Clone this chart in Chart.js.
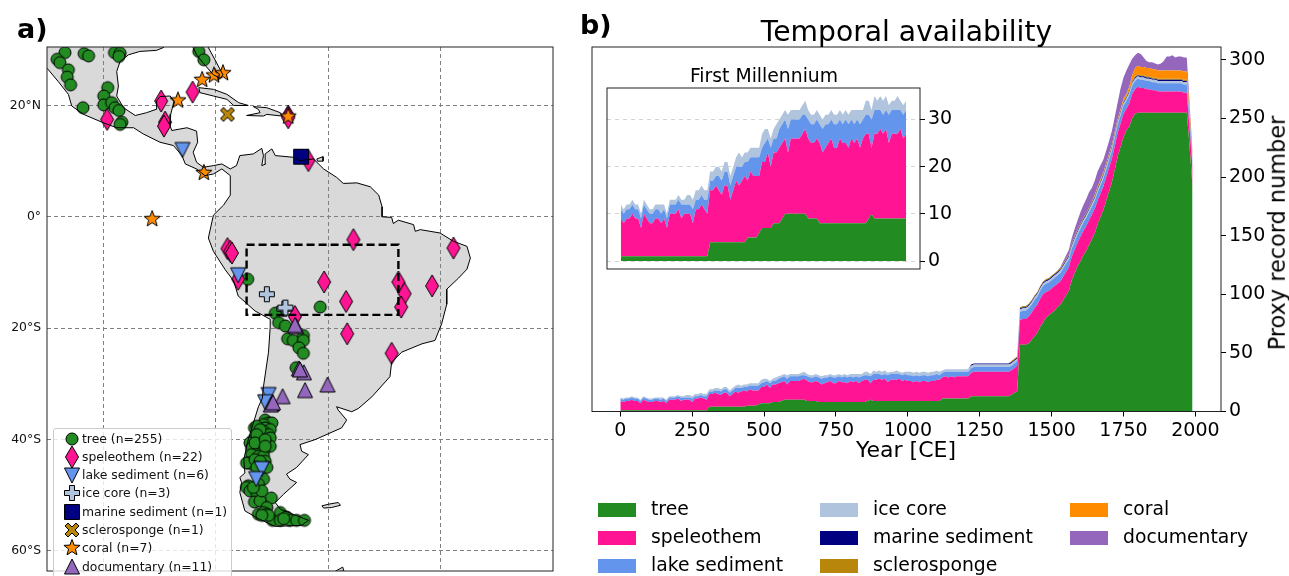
<!DOCTYPE html>
<html lang="en">
<head>
<meta charset="UTF-8">
<title>Temporal availability</title>
<style>
    body { margin: 0; background: #fff; overflow: hidden; font-family: "DejaVu Sans", sans-serif; color: #000; }
    #page { position: relative; width: 1289px; height: 576px; overflow: hidden; }
    canvas.layer { position: absolute; left: 0; top: 0; }
    .txt { position: absolute; white-space: nowrap; line-height: 1; }
    #mapLegend { position: absolute; left: 53px; top: 428px; width: 179px; height: 170px; background: rgba(255,255,255,0.8); border: 1px solid #ccc; border-radius: 3px; box-sizing: border-box; }
    #mapLegend canvas { position: absolute; }
    #mapLegend span { position: absolute; left: 28px; font-size: 12.4px; line-height: 1; white-space: nowrap; color: #111; }
    .swatch { position: absolute; width: 38px; height: 14px; }
</style>
</head>
<body>
<div id="page">
    <canvas id="mapChart" class="layer" width="1289" height="576"></canvas>
    <canvas id="mainChart" class="layer" width="1289" height="576"></canvas>
    <canvas id="insetChart" class="layer" width="1289" height="576"></canvas>
    <div class="txt" style="left:17px;top:15px;font-size:27px;font-weight:bold">a)</div>
    <div class="txt" style="left:580px;top:11px;font-size:27px;font-weight:bold">b)</div>
    <div class="txt" style="left:906.5px;top:18px;font-size:28.2px;transform:translateX(-50%)">Temporal availability</div>
    <div class="txt" style="left:764px;top:67px;font-size:18.8px;transform:translateX(-50%)">First Millennium</div>
    <div class="txt" style="left:906px;top:439px;font-size:22px;transform:translateX(-50%)">Year [CE]</div>
    <div class="txt" style="left:1277px;top:233px;font-size:22.4px;transform:translate(-50%,-50%) rotate(-90deg)">Proxy record number</div>
    <div id="mapLegend"></div>
    <div id="stackLegend"></div>
</div>

<script src="https://cdn.jsdelivr.net/npm/chart.js"></script>
<script>
// ---- stack plot data, one value per decade from year 0 to 1990 (one row = one century)
const tree = [
    1,1,1,1,1,1,1,1,1,1,
    1,1,1,1,1,1,1,1,1,1,
    1,1,1,1,1,1,1,1,1,1,
    1,4,4,4,4,4,4,4,4,4,
    4,4,4,4,5,5,5,5,6,7,
    7,7,7,8,8,8,9,10,10,10,
    10,10,10,10,10,9,9,9,9,8,
    8,8,8,8,8,8,8,8,8,8,
    8,8,8,8,8,8,9,10,9,9,
    9,9,9,9,9,9,9,9,9,9,
    9,9,9,9,9,9,9,9,9,9,
    9,9,11,11,11,11,11,11,11,11,
    11,11,13,13,13,13,13,13,13,13,
    13,13,13,13,13,13,14,16,17,57,
    57,57,58,61,64,67,72,76,80,82,
    84,86,89,91,95,99,103,112,118,124,
    128,133,137,142,147,152,160,166,172,180,
    188,196,207,218,226,234,240,243,250,254,
    255,255,255,255,255,255,255,255,255,255,
    255,255,255,255,255,255,255,255,225,192
];
const speleothem = [
    8,7,8,8,9,8,8,6,9,8,
    7,7,8,8,7,8,6,9,9,9,
    10,8,9,9,9,7,10,10,11,10,
    9,11,11,12,11,10,12,12,9,11,
    13,12,13,14,12,14,13,13,12,14,
    14,16,13,15,15,16,16,16,13,16,
    16,16,16,17,18,17,16,16,17,17,
    15,16,17,18,16,16,18,17,17,16,
    18,17,18,16,18,19,18,14,18,18,
    19,18,19,16,18,18,18,19,17,18,
    17,17,16,17,16,17,17,16,17,17,
    18,18,18,19,18,19,18,19,19,19,
    19,19,20,21,21,21,21,21,21,21,
    21,21,21,21,21,21,21,21,22,21,
    22,22,23,23,24,24,24,24,22,21,
    21,21,20,20,20,20,20,20,20,20,
    21,21,21,21,21,21,20,20,20,20,
    20,20,20,20,20,20,18,20,21,21,
    22,21,21,20,20,19,19,18,18,18,
    18,18,18,18,18,18,17,17,16,16
];
const lakeSediment = [
    2,2,2,2,2,2,2,2,2,2,
    2,2,2,2,2,2,2,2,2,2,
    2,3,2,2,2,3,2,2,2,2,
    3,2,2,2,3,3,3,3,3,3,
    3,4,3,3,4,3,4,4,4,3,
    4,3,4,3,3,4,4,4,5,4,
    4,4,4,4,3,4,4,4,4,4,
    5,5,4,4,5,5,4,4,5,5,
    4,4,4,5,4,4,4,6,5,5,
    4,4,4,6,5,5,5,4,5,5,
    5,5,5,5,5,5,5,5,5,5,
    5,4,4,4,5,4,5,4,4,4,
    4,4,4,4,4,4,4,4,4,4,
    4,4,4,4,4,4,4,4,4,7,
    7,7,7,7,7,7,7,7,7,7,
    7,7,7,7,7,7,7,7,7,7,
    7,7,7,7,7,7,7,7,7,7,
    7,7,7,7,7,7,7,7,7,7,
    7,7,7,7,7,7,7,7,7,7,
    7,7,7,7,7,7,7,7,7,7
];
const iceCore = [
    1,1,1,1,1,1,1,1,1,1,
    1,1,1,1,2,1,1,1,1,1,
    1,1,1,2,2,2,2,2,2,2,
    2,2,2,2,2,2,2,2,2,2,
    2,3,2,2,2,2,2,2,2,3,
    3,2,2,2,3,2,2,2,3,2,
    2,2,2,2,3,2,2,2,2,2,
    2,2,2,2,2,2,2,2,2,2,
    2,3,2,3,2,3,3,2,3,2,
    3,3,3,2,2,2,3,2,2,2,
    3,3,3,3,3,3,3,3,3,3,
    3,3,2,2,2,2,2,2,2,2,
    2,2,2,2,2,2,2,2,2,2,
    2,2,2,2,2,2,2,2,2,2,
    2,2,2,2,2,2,2,2,2,2,
    2,2,2,2,2,2,2,2,2,2,
    2,2,2,2,2,2,2,2,2,2,
    2,2,2,2,2,2,2,2,2,2,
    2,2,2,2,2,2,2,2,2,2,
    2,2,2,2,2,2,2,2,2,1
];
const marineSediment = [
    0,0,0,0,0,0,0,0,0,0,
    0,0,0,0,0,0,0,0,0,0,
    0,0,0,0,0,0,0,0,0,0,
    0,0,0,0,0,0,0,0,0,0,
    0,0,0,0,0,0,0,0,0,0,
    0,0,0,0,0,0,0,0,0,0,
    0,0,0,0,0,0,0,0,0,0,
    0,0,0,0,0,0,0,0,0,0,
    0,0,0,0,0,0,0,0,0,0,
    0,0,0,0,0,0,0,0,0,0,
    0,0,0,0,0,0,0,0,0,0,
    0,0,0,0,0,0,0,0,0,0,
    0,0,1,1,1,1,1,1,1,1,
    1,1,1,1,1,1,1,1,1,1,
    1,1,1,1,1,1,1,1,1,1,
    1,1,1,1,1,1,1,1,1,1,
    1,1,1,1,1,1,1,1,1,1,
    1,1,1,1,1,1,1,1,1,1,
    1,1,1,1,1,1,1,1,1,1,
    1,1,1,1,1,1,1,1,1,1
];
const sclerosponge = [
    0,0,0,0,0,0,0,0,0,0,
    0,0,0,0,0,0,0,0,0,0,
    0,0,0,0,0,0,0,0,0,0,
    0,0,0,0,0,0,0,0,0,0,
    0,0,0,0,0,0,0,0,0,0,
    0,0,0,0,0,0,0,0,0,0,
    0,0,0,0,0,0,0,0,0,0,
    0,0,0,0,0,0,0,0,0,0,
    0,0,0,0,0,0,0,0,0,0,
    0,0,0,0,0,0,0,0,0,0,
    0,0,0,0,0,0,0,0,0,0,
    0,0,0,0,0,0,0,0,0,0,
    0,0,0,0,0,0,0,0,0,0,
    0,0,0,0,0,0,1,1,1,1,
    1,1,1,1,1,1,1,1,1,1,
    1,1,1,1,1,1,1,1,1,1,
    1,1,1,1,1,1,1,1,1,1,
    1,1,1,1,1,1,1,1,1,1,
    1,1,1,1,1,1,1,1,1,1,
    1,1,1,1,1,1,1,1,1,1
];
const coral = [
    0,0,0,0,0,0,0,0,0,0,
    0,0,0,0,0,0,0,0,0,0,
    0,0,0,0,0,0,0,0,0,0,
    0,0,0,0,0,0,0,0,0,0,
    0,0,0,0,0,0,0,0,0,0,
    0,0,0,0,0,0,0,0,0,0,
    0,0,0,0,0,0,0,0,0,0,
    0,0,0,0,0,0,0,0,0,0,
    0,0,0,0,0,0,0,0,0,0,
    0,0,0,0,0,0,0,0,0,0,
    0,0,0,0,0,0,0,0,0,0,
    0,0,0,0,0,0,0,0,0,0,
    0,0,0,0,0,0,0,0,0,0,
    0,0,0,0,0,0,0,0,0,0,
    0,0,0,0,0,0,0,0,0,0,
    0,0,0,0,0,0,0,0,0,0,
    0,0,0,0,0,1,1,1,1,1,
    1,1,1,1,1,2,2,3,5,7,
    7,7,7,7,7,7,7,7,7,7,
    7,7,7,7,7,7,7,7,5,3
];
const documentary = [
    0,0,0,0,0,0,0,0,0,0,
    0,0,0,0,0,0,0,0,0,0,
    0,0,0,0,0,0,0,0,0,0,
    0,0,0,0,0,0,0,0,0,0,
    0,0,0,0,0,0,0,0,0,0,
    0,0,0,0,0,0,0,0,0,0,
    0,0,0,0,0,0,0,0,0,0,
    0,0,0,0,0,0,0,0,0,0,
    0,0,0,0,0,0,0,0,0,0,
    0,0,0,0,0,0,0,0,0,0,
    0,0,0,0,0,0,0,0,0,0,
    0,0,0,0,0,0,0,0,0,0,
    0,0,0,0,0,0,0,0,0,0,
    0,0,0,0,0,0,0,0,0,0,
    0,0,0,0,0,0,0,0,0,0,
    0,0,0,1,2,3,4,5,7,8,
    10,11,12,13,12,12,13,12,11,11,
    11,12,13,14,18,18,20,19,14,11,
    11,11,8,6,5,6,5,5,6,8,
    12,12,13,11,12,12,12,12,5,1
];
const years = tree.map((_, i) => i * 10);
const firstMillenniumCount = 100;

const seriesNames = ['tree', 'speleothem', 'lake sediment', 'ice core', 'marine sediment', 'sclerosponge', 'coral', 'documentary'];
const seriesValues = [tree, speleothem, lakeSediment, iceCore, marineSediment, sclerosponge, coral, documentary];
const seriesColors = ['#228B22', '#FF1493', '#6495ED', '#B0C4DE', '#000080', '#B8860B', '#FF8C00', '#9467BD'];
const seriesCounts = [255, 22, 6, 3, 1, 1, 7, 11];

const yearTicks = [0, 250, 500, 750, 1000, 1250, 1500, 1750, 2000];
const recordTicks = [0, 50, 100, 150, 200, 250, 300];
const insetTicks = [0, 10, 20, 30];

// ---- map data, degrees
const lonTicks = [-100, -80, -60, -40];
const latTicks = [-60, -40, -20, 0, 20];

const treeLon = [-106.8,-108.2,-107.7,-106.2,-106.4,-105.8,-103.4,-102.6,-98.0,-97.0,-97.2,-83.0,-82.1,-99.2,-99.9,-99.9,-98.5,-97.9,-97.2,-103.6,-96.7,-97.0,
    -74.3,-61.4,-69.4,-68.8,-67.6,-67.2,-66.2,-64.4,-64.4,-65.2,-64.4,-65.7,
    -71.2,-70.6,-70.0,-73.1,-71.5,-71.2,-70.3,-71.5,-71.8,-70.6,-70.3,-73.3,-73.9,-72.1,-70.3,-73.6,-72.1,-72.4,-71.5,-73.6,-72.4,-71.5,-74.2,-73.3,-71.2,-74.5,-70.9,
    -71.5,-72.4,-74.2,-74.5,-73.9,-72.7,-70.1,-73.1,-72.1,-70.9,-72.4,-71.5,-70.9,-69.9,-68.5,-68.5,-67.4,-66.8,-65.6,-64.2,-67.9,-70.6,-71.8,
    -72.7,-72.1,-72.7,-73.0,-71.2,-71.2,-73.0,-72.1,-72.7,-71.8,-73.3];
const treeLat = [29.5,28.3,27.7,26.4,25.1,23.7,29.3,28.9,29.5,29.4,28.8,29.7,28.2,23.2,21.7,20.1,20.5,19.6,19.1,19.6,17.0,16.6,
    -11.2,-16.2,-17.3,-19.0,-19.6,-21.9,-22.2,-21.3,-22.2,-23.5,-24.5,-27.1,
    -36.5,-37.0,-37.0,-37.9,-37.3,-37.9,-38.2,-38.5,-39.1,-39.1,-39.7,-40.0,-40.6,-40.3,-41.2,-41.5,-41.2,-42.1,-42.1,-42.7,-43.0,-43.0,-44.2,-44.5,-43.9,-44.2,-45.0,
    -47.1,-48.0,-48.3,-48.6,-49.2,-49.5,-50.5,-51.2,-51.0,-52.2,-53.4,-53.1,-53.4,-54.5,-53.1,-54.5,-53.9,-54.5,-54.5,-54.5,-54.2,-53.6,-53.6,
    -37.6,-38.2,-39.1,-40.6,-40.0,-41.2,-43.6,-43.9,-45.0,-49.2,-48.6];
const speleothemLon = [-89.7,-89.0,-89.2,-99.3,-84.1,-67.1,-67.1,-77.9,-77.4,-77.1,-76.0,-63.5,-55.5,-37.7,-60.7,-56.8,-65.9,-56.6,-48.7,-47.5,-46.4,-47.0,-41.5];
const speleothemLat = [20.8,17.0,16.3,17.5,22.4,18.1,17.8,-5.7,-6.2,-6.5,-11.2,10.1,-4.1,-5.6,-11.7,-15.2,-17.9,-21.0,-24.5,-11.7,-13.8,-16.2,-12.4];
const lakeLon = [-85.9,-76.0,-70.6,-71.2,-71.8,-72.8];
const lakeLat = [12.1,-10.4,-31.9,-33.2,-45.2,-47.0];
const iceLon = [-70.9,-67.8,-67.6];
const iceLat = [-13.9,-16.5,-16.3];
const marineLon = [-64.8];
const marineLat = [10.8];
const spongeLon = [-77.9];
const spongeLat = [18.4];
const coralLon = [-91.3,-86.7,-82.4,-80.3,-78.7,-82.1,-67.1];
const coralLat = [-0.4,20.9,24.6,25.4,25.8,7.9,18.0];
const docLon = [-65.7,-65.2,-64.3,-64.1,-60.1,-68.1,-70.0,-70.2,-69.8,-65.0,-65.9];
const docLat = [-19.7,-27.3,-28.0,-31.2,-30.2,-32.3,-33.6,-33.8,-33.4,-27.5,-19.5];

const boxLon = [-74.5,-47.5,-47.5,-74.5,-74.5];
const boxLat = [-5,-5,-17.6,-17.6,-5];

// americas outline, runs off the top and left of the map on purpose
const americasLon = [-112,-78,-81.3,-79.8,-78.7,-79.2,-80.4,-82.2,-83.4,-84,-84,-89.3,-89.3,-90.5,-93.5,-95.5,-97,-97.6,-97.3,-97.6,-96.4,-94.3,-92.3,-90.6,-90.5,-89.9,-88.1,-87.4,-88,-88.1,-87.8,-85.1,-83.4,-83.2,-84,-83.4,-82.2,-80.4,-78.9,-77.4,-76.3,-75.7,-73.3,-71.8,-71.5,-71.8,-71.1,-71.2,-70,-69.4,-66.2,-65,-62.6,-60.8,-58.5,-57.3,-54.9,-52.5,-51,-50.4,-50.4,-48.7,-48.4,-47.5,-44.8,-44.5,-43.6,-40.1,-37.7,-35.3,-34.7,-35.3,-36.8,-38.9,-38.9,-39.8,-41,-43.3,-46.9,-48.7,-49,-52.2,-54.6,-55.8,-58.5,-58.2,-56.7,-57.6,-62.3,-65,-64.7,-63.5,-65.6,-67.4,-66.8,-65.6,-67.9,-69.4,-68.5,-63.5,-64.7,-69.4,-72.4,-74.8,-75.7,-75.4,-75.7,-74.8,-75,-74.2,-72.4,-71.7,-71.5,-70.6,-70.3,-70.3,-73,-76,-76.8,-78.3,-80.4,-81.3,-80.4,-78.6,-77.4,-77.4,-78.9,-80.4,-81.9,-83.4,-85.4,-86,-87.5,-89.9,-92.9,-94.6,-97.6,-100,-103.5,-105.6,-106.2,-108,-110,-111.2,-112];
const americasLat = [33,33,30.4,27.6,25.5,24.9,25.5,27.6,29.1,30.4,32,32,30.4,29.9,29.7,29.1,27.9,26.1,23.5,21.7,19.6,18.2,18.7,19.3,20.8,21.6,21.7,20.8,18.4,16.3,15.5,16,15.4,13.4,11.6,9.8,8.9,9.2,9.5,8.6,9.2,11,11.3,12.3,11,9.2,9.5,11.3,12.2,11,10.7,10.1,10.4,8.6,7.1,6,6.1,5.4,3.9,1.8,0,-0.1,-1.2,-0.6,-1.4,-2.6,-2.3,-2.9,-4.4,-5.3,-7.4,-9.4,-11,-13,-15.7,-19.2,-22.2,-22.8,-24.3,-26.1,-28.7,-32.3,-34.4,-35,-34.1,-34.7,-36.5,-37.9,-40,-40.9,-42.1,-42.7,-45,-46.2,-47.1,-47.7,-49.8,-51.3,-52.5,-54.5,-55.4,-55.6,-54.2,-52.8,-49.5,-47.7,-46.8,-46,-43.6,-40,-34.1,-32.6,-30.5,-24.3,-19.8,-18.4,-16.9,-14.2,-11.5,-9.5,-6.2,-3.8,0.3,2.1,3.9,7.4,8.6,7.7,7.4,8.6,9.5,11,12.8,13.4,14.9,16,16,16.9,18.4,19.9,22,24.3,26.7,27.6,33];
const cubaLon = [-83,-80.4,-78,-75.9,-74.2,-76.8,-78,-80.4,-82.8,-83];
const cubaLat = [23.2,22.9,22,20.5,20,20,21.1,21.7,22.3,23.2];
const hispaniolaLon = [-73.3,-70.9,-68.5,-68.2,-70.9,-71.5,-74.5,-72.1,-72.4,-73.3];
const hispaniolaLat = [19.8,19.6,18.7,18.1,18.4,18.1,18.2,18.7,19.3,19.8];
const trinidadLon = [-62,-60.9,-60.9,-61.9,-62];
const trinidadLat = [10.4,10.8,10,10,10.4];
const falklandLon = [-61.1,-59.9,-58.2,-57.8,-59.4,-60.8,-61.1];
const falklandLat = [-51.9,-51.6,-51.3,-51.8,-52.2,-52.3,-51.9];
const peninsulaLon = [-58.8,-57.4,-57.2,-58.2,-58.8];
const peninsulaLat = [-63.7,-62.9,-63.6,-63.7,-63.7];

function toPoints(lon, lat) {
    return lon.map((x, i) => ({ x: x, y: lat[i] }));
}

// ---- markers are small canvases, Chart.js stamps them as pointStyle
function makeMarker(color, path) {
    const c = document.createElement('canvas');
    c.width = 28;
    c.height = 28;
    const ctx = c.getContext('2d');
    ctx.translate(14, 14);
    ctx.fillStyle = color;
    ctx.strokeStyle = '#000';
    ctx.lineWidth = 1;
    ctx.lineJoin = 'miter';
    ctx.beginPath();
    path(ctx);
    ctx.closePath();
    ctx.fill();
    ctx.stroke();
    return c;
}
function poly(pts) {
    return ctx => pts.forEach((p, i) => i ? ctx.lineTo(p[0], p[1]) : ctx.moveTo(p[0], p[1]));
}
function star5(r) {
    const pts = [];
    for (let i = 0; i < 10; i++) {
        const a = -Math.PI / 2 + i * Math.PI / 5;
        const q = i % 2 ? r * 0.42 : r;
        pts.push([q * Math.cos(a), q * Math.sin(a)]);
    }
    return poly(pts);
}
const markers = [
    makeMarker(seriesColors[0], ctx => ctx.arc(0, 0, 6, 0, Math.PI * 2)),
    makeMarker(seriesColors[1], poly([[0,-11],[6.5,0],[0,11],[-6.5,0]])),
    makeMarker(seriesColors[2], poly([[-7.5,-7],[7.5,-7],[0,8]])),
    makeMarker(seriesColors[3], poly([[-2.5,-7.5],[2.5,-7.5],[2.5,-2.5],[7.5,-2.5],[7.5,2.5],[2.5,2.5],[2.5,7.5],[-2.5,7.5],[-2.5,2.5],[-7.5,2.5],[-7.5,-2.5],[-2.5,-2.5]])),
    makeMarker(seriesColors[4], poly([[-7.5,-7.5],[7.5,-7.5],[7.5,7.5],[-7.5,7.5]])),
    makeMarker(seriesColors[5], poly([[-4,-7],[0,-3],[4,-7],[7,-4],[3,0],[7,4],[4,7],[0,3],[-4,7],[-7,4],[-3,0],[-7,-4]])),
    makeMarker(seriesColors[6], star5(8.5)),
    makeMarker(seriesColors[7], poly([[0,-8],[7.5,7],[-7.5,7]]))
];

const frame = {
    id: 'frame',
    afterDraw(chart) {
        const a = chart.chartArea;
        chart.ctx.save();
        chart.ctx.strokeStyle = '#222';
        chart.ctx.lineWidth = 1;
        chart.ctx.strokeRect(a.left, a.top, a.right - a.left, a.bottom - a.top);
        chart.ctx.restore();
    }
};
function fixedTicks(list) {
    return scale => { scale.ticks = list.map(v => ({ value: v })); };
}
// axis takes exactly this room, no extra for labels that stick out
function fixedSize(width, height) {
    return scale => {
        if (width !== null) scale.width = width;
        if (height !== null) scale.height = height;
        scale.paddingLeft = scale.paddingRight = scale.paddingTop = scale.paddingBottom = 0;
    };
}

// ---- panel a
function landSet(lon, lat) {
    return {
        data: toPoints(lon, lat), showLine: true, fill: 'shape', tension: 0,
        backgroundColor: '#D9D9D9', borderColor: '#000', borderWidth: 1,
        pointRadius: 0, order: 0
    };
}
const scatterLons = [treeLon, speleothemLon, lakeLon, iceLon, marineLon, spongeLon, coralLon, docLon];
const scatterLats = [treeLat, speleothemLat, lakeLat, iceLat, marineLat, spongeLat, coralLat, docLat];
const mapSets = [
    landSet(americasLon, americasLat),
    landSet(cubaLon, cubaLat),
    landSet(hispaniolaLon, hispaniolaLat),
    landSet(trinidadLon, trinidadLat),
    landSet(falklandLon, falklandLat),
    landSet(peninsulaLon, peninsulaLat),
    {
        data: toPoints(boxLon, boxLat), showLine: true, fill: false, tension: 0,
        borderColor: '#000', borderWidth: 2.4, borderDash: [8, 4], pointRadius: 0, order: 0
    }
];
seriesNames.forEach((name, i) => {
    mapSets.push({
        label: name, data: toPoints(scatterLons[i], scatterLats[i]),
        pointStyle: markers[i], order: 10 - i, showLine: false
    });
});

new Chart(document.getElementById('mapChart'), {
    type: 'scatter',
    data: { datasets: mapSets },
    options: {
        responsive: false, animation: false, devicePixelRatio: 1,
        layout: { padding: { left: 0, top: 47, right: 736, bottom: 0 } },
        plugins: { legend: { display: false }, tooltip: { enabled: false }, filler: { drawTime: 'beforeDraw' } },
        scales: {
            x: {
                type: 'linear', min: -110, max: -20,
                afterBuildTicks: fixedTicks(lonTicks),
                afterFit: fixedSize(null, 0),
                ticks: { display: false },
                border: { display: false, dash: [4, 3] },
                grid: { color: '#808080', drawTicks: false }
            },
            y: {
                type: 'linear', min: -63.6, max: 30.5,
                afterBuildTicks: fixedTicks(latTicks),
                afterFit: fixedSize(47, null),
                ticks: {
                    color: '#111', padding: 6, autoSkip: false,
                    font: { family: 'DejaVu Sans', size: 12.4 },
                    callback: v => v === 0 ? '0°' : Math.abs(v) + (v > 0 ? '°N' : '°S')
                },
                border: { display: false, dash: [4, 3] },
                grid: { color: '#808080', drawTicks: false }
            }
        }
    },
    plugins: [frame]
});

// ---- panel b
function stackSets(names, values, colors, count) {
    return names.map((name, i) => ({
        label: name,
        data: values[i].slice(0, count),
        backgroundColor: colors[i],
        borderWidth: 0,
        pointRadius: 0,
        tension: 0,
        fill: i === 0 ? 'origin' : '-1'
    }));
}

new Chart(document.getElementById('mainChart'), {
    type: 'line',
    data: { labels: years, datasets: stackSets(seriesNames, seriesValues, seriesColors, years.length) },
    options: {
        responsive: false, animation: false, devicePixelRatio: 1,
        layout: { padding: { left: 592, top: 47, right: 0, bottom: 0 } },
        plugins: { legend: { display: false }, tooltip: { enabled: false } },
        scales: {
            x: {
                type: 'linear', min: -98.5, max: 2089,
                afterBuildTicks: fixedTicks(yearTicks),
                afterFit: fixedSize(null, 164.5),
                ticks: { color: '#000', maxRotation: 0, autoSkip: false, padding: 3, font: { family: 'DejaVu Sans', size: 19 }, callback: v => String(v) },
                border: { display: false },
                grid: { drawOnChartArea: false, tickColor: '#000', tickLength: 5 }
            },
            y: {
                type: 'linear', position: 'right', stacked: true, min: 0, max: 311,
                afterBuildTicks: fixedTicks(recordTicks),
                afterFit: fixedSize(68, null),
                ticks: { color: '#000', autoSkip: false, padding: 3, font: { family: 'DejaVu Sans', size: 19 } },
                border: { display: false },
                grid: { drawOnChartArea: false, tickColor: '#000', tickLength: 5 }
            }
        }
    },
    plugins: [frame]
});

new Chart(document.getElementById('insetChart'), {
    type: 'line',
    data: {
        labels: years.slice(0, firstMillenniumCount),
        datasets: stackSets(seriesNames.slice(0, 4), seriesValues.slice(0, 4), seriesColors.slice(0, 4), firstMillenniumCount)
    },
    options: {
        responsive: false, animation: false, devicePixelRatio: 1,
        layout: { padding: { left: 607, top: 88, right: 0, bottom: 0 } },
        plugins: { legend: { display: false }, tooltip: { enabled: false } },
        scales: {
            x: {
                type: 'linear', min: -48, max: 1038,
                afterFit: fixedSize(null, 307),
                ticks: { display: false },
                border: { display: false },
                grid: { display: false }
            },
            y: {
                type: 'linear', position: 'right', stacked: true, min: -1.69, max: 36.68,
                afterBuildTicks: fixedTicks(insetTicks),
                afterFit: fixedSize(369, null),
                ticks: { color: '#000', autoSkip: false, padding: 3, font: { family: 'DejaVu Sans', size: 19 } },
                border: { display: false, dash: [4, 4] },
                grid: { color: '#D3D3D3', tickColor: '#000', tickLength: 5, tickBorderDash: [] }
            }
        }
    },
    plugins: [frame]
});

// ---- legends
const mapLegend = document.getElementById('mapLegend');
seriesNames.forEach((name, i) => {
    const rowY = 9.5 + i * 18.3;
    const m = markers[i];
    m.style.left = (17.5 - 14) + 'px';
    m.style.top = (rowY - 14) + 'px';
    mapLegend.appendChild(m);
    const t = document.createElement('span');
    t.textContent = name + ' (n=' + seriesCounts[i] + ')';
    t.style.top = (rowY - 6) + 'px';
    mapLegend.appendChild(t);
});

const stackLegend = document.getElementById('stackLegend');
const swatchX = [598, 820, 1070];
const labelX = [651, 873, 1123];
const rowTop = [510, 538, 566];
const columnOf = [0, 0, 0, 1, 1, 1, 2, 2];
const rowOf = [0, 1, 2, 0, 1, 2, 0, 1];
seriesNames.forEach((name, i) => {
    const sw = document.createElement('div');
    sw.className = 'swatch';
    sw.style.left = swatchX[columnOf[i]] + 'px';
    sw.style.top = (rowTop[rowOf[i]] - 7) + 'px';
    sw.style.background = seriesColors[i];
    stackLegend.appendChild(sw);
    const t = document.createElement('div');
    t.className = 'txt';
    t.textContent = name;
    t.style.left = labelX[columnOf[i]] + 'px';
    t.style.top = (rowTop[rowOf[i]] - 10) + 'px';
    t.style.fontSize = '18.8px';
    stackLegend.appendChild(t);
});
</script>
</body>
</html>
